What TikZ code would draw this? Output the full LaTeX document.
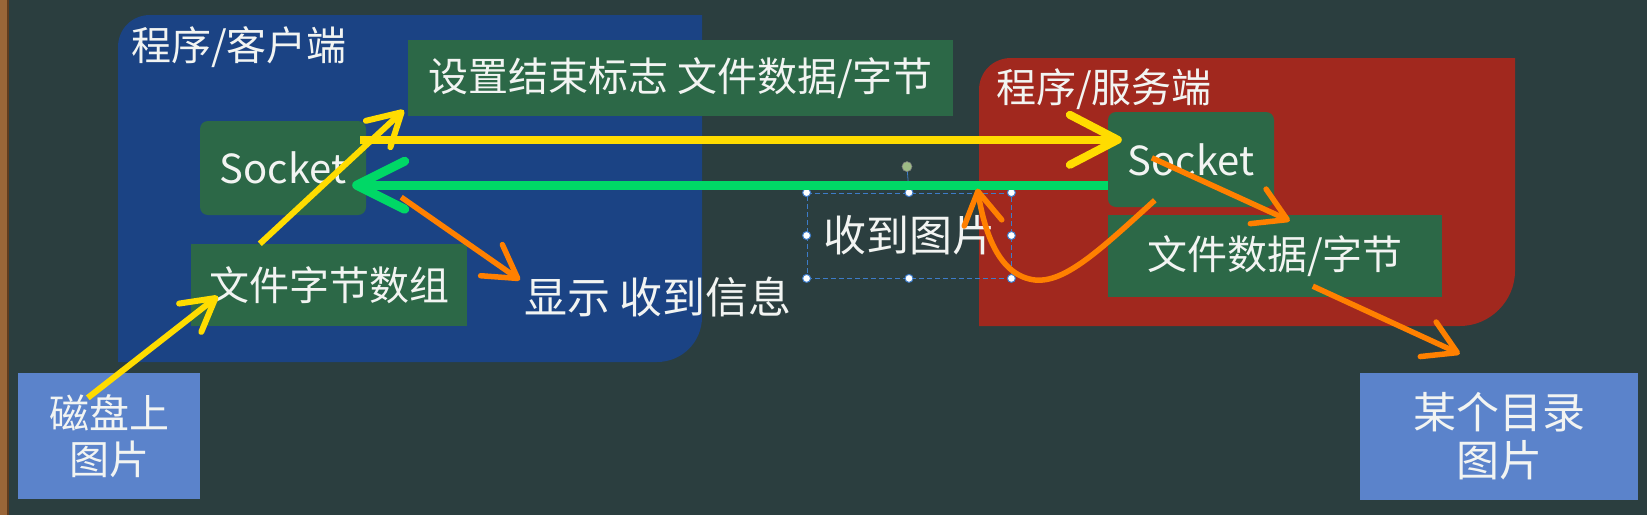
\documentclass[tikz,border=0pt]{standalone}
\usepackage{fontspec}
\newfontfamily\cjk{Noto Sans CJK SC}
\usetikzlibrary{arrows.meta,calc}
\definecolor{bg}{HTML}{2B3E3F}
\definecolor{cblue}{HTML}{1B4384}
\definecolor{sred}{HTML}{A1281E}
\definecolor{gbox}{HTML}{2C6847}
\definecolor{lblue}{HTML}{5B83CB}
\definecolor{ylw}{HTML}{FFDC00}
\definecolor{grn}{HTML}{00D866}
\definecolor{org}{HTML}{FF8000}
\definecolor{txt}{HTML}{F2F4F2}
\definecolor{wood}{HTML}{9A6638}
\definecolor{wooddark}{HTML}{5E3B1E}
\definecolor{hblue}{HTML}{3D7CC9}
\definecolor{rothandle}{HTML}{9DBB85}
\begin{document}
\begin{tikzpicture}[x=1pt,y=-1pt,
  lbl/.style={font=\cjk\fontsize{40}{46}\selectfont, text=txt, inner sep=0pt, align=center},
  big/.style={font=\cjk\fontsize{43}{48}\selectfont},
  gbx/.style={lbl, fill=gbox},
  sbx/.style={lbl, fill=gbox, rounded corners=8pt},
  bbx/.style={lbl, fill=lblue},
  yarr/.style={draw=ylw, line width=6pt, -{Straight Barb[length=32pt,width=36pt,round]}},
  ybig/.style={draw=ylw, line width=8pt, -{Straight Barb[length=48pt,width=50pt,round]}},
  garr/.style={draw=grn, line width=9pt, -{Straight Barb[length=48pt,width=48pt,round]}},
  oarr/.style={draw=org, line width=5.5pt, -{Straight Barb[length=32pt,width=38pt,round]}},
  handle/.style={circle, fill=white, draw=hblue, line width=1pt, inner sep=0pt, minimum size=8pt}
]
\useasboundingbox (0,0) rectangle (1647,515);
\fill[bg] (0,0) rectangle (1647,515);
\fill[wood] (0,0) rectangle (7,515);
\fill[wooddark] (7,0) rectangle (9,515);

% client region
\fill[cblue] (118,47) .. controls (118,29) and (132,15) .. (150,15) -- (702,15) -- (702,317)
  .. controls (702,342) and (682,362) .. (657,362) -- (118,362) -- cycle;
% server region
\fill[sred] (979,90) .. controls (979,72) and (993,58) .. (1011,58) -- (1515,58) -- (1515,271)
  .. controls (1515,301) and (1490,326) .. (1460,326) -- (979,326) -- cycle;

% labels of regions
\node[lbl, anchor=west] (client) at (131,47) {程序/客户端};
\node[lbl, anchor=west] (server) at (996,89) {程序/服务端};

% boxes
\node[gbx, minimum width=545pt, minimum height=76pt] (flag) at (680.5,78) {设置结束标志 文件数据/字节};
\node[sbx, minimum width=166pt, minimum height=94pt] (sockL) at (283,168) {Socket};
\node[gbx, minimum width=276pt, minimum height=82pt] (fbytes) at (329,285) {文件字节数组};
\node[lbl, big] (show) at (658,297) {显示 收到信息};
\node[sbx, minimum width=166pt, minimum height=95pt] (sockR) at (1191,159.5) {Socket};
\node[gbx, minimum width=334pt, minimum height=82pt] (fdataR) at (1275,256) {文件数据/字节};
\node[bbx, minimum width=182pt, minimum height=126pt] (disk) at (109,436) {磁盘上\\图片};
\node[bbx, big, minimum width=278pt, minimum height=127pt] (dir) at (1499,436.5) {某个目录\\图片};

% selected text box
\node[lbl, big, draw=hblue, line width=0.8pt,
  dash pattern=on 5pt off 3pt, minimum width=204pt, minimum height=85pt] (recv) at (909,235.5) {收到图片};
\coordinate (rot) at ($(recv.north)+(-2,-26)$);
\draw[hblue, line width=0.8pt] (recv.north) -- (rot);
\node[circle, fill=rothandle, draw=gray, line width=0.6pt, inner sep=0pt, minimum size=10pt] (roth) at (rot) {};
\foreach \a in {north west,north,north east,west,east,south west,south,south east}
  \node[handle] at (recv.\a) {};

% arrows
\draw[yarr] ($(disk.north west)+(70,25)$) -- ($(fbytes.south west)+(27,-30)$);
\draw[yarr] ($(fbytes.north west)+(69,0)$) -- ($(flag.south west)+(-4,-6)$);
\draw[ybig] ($(sockL.north east)+(-6,19)$) -- ($(sockR.north west)+(14,28)$);
\draw[garr] ($(sockR.south west)+(0,-22)$) -- ($(sockL.south east)+(-14,-30)$);
\draw[oarr] ($(sockL.south east)+(35,-18)$) -- ($(show.west)+(-4,-17)$);
\draw[oarr] ($(sockR.north west)+(44,46)$) -- ($(fdataR.north west)+(182,6)$);
\draw[oarr] ($(sockR.south west)+(47,-7)$) .. controls (1100,250) and (1065,283) .. (1035,280)
  .. controls (1000,276) and (985,235) .. ($(recv.north east)+(-34,-4)$);
\draw[oarr] ($(fdataR.south west)+(205,-11)$) -- ($(dir.north west)+(100,-19)$);
\end{tikzpicture}
\end{document}
